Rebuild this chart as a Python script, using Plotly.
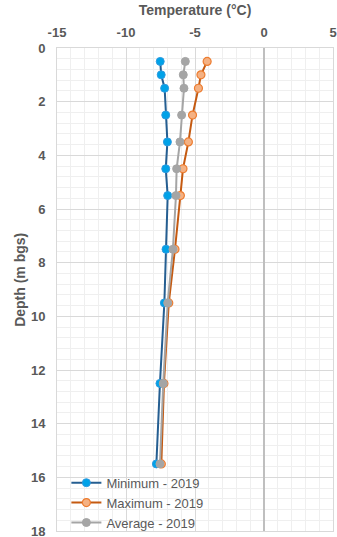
import plotly.graph_objects as go

depth = [0.5, 1.0, 1.5, 2.5, 3.5, 4.5, 5.5, 7.5, 9.5, 12.5, 15.5]
t_min = [-7.52, -7.45, -7.2, -7.12, -7.0, -7.12, -6.98, -7.1, -7.22, -7.54, -7.8]
t_max = [-4.12, -4.57, -4.75, -5.18, -5.48, -5.87, -6.06, -6.45, -6.9, -7.25, -7.44]
t_avg = [-5.7, -5.85, -5.8, -5.97, -6.09, -6.33, -6.38, -6.6, -6.98, -7.3, -7.54]
names = ["Minimum - 2019", "Maximum - 2019", "Average - 2019"]
x_ticks = [-15, -10, -5, 0, 5]
x_labels = ["-15", "-10", "-5", "0", "5"]
y_ticks = [0, 2, 4, 6, 8, 10, 12, 14, 16, 18]
y_labels = [str(v) for v in y_ticks]

fig = go.Figure()
fig.add_trace(go.Scatter(x=t_min, y=depth, name=names[0], mode="lines+markers",
                         line=dict(color="#255e91", width=2),
                         marker=dict(size=8, color="#00a2e8", line=dict(color="#2e9be0", width=1))))
fig.add_trace(go.Scatter(x=t_max, y=depth, name=names[1], mode="lines+markers",
                         line=dict(color="#c55a11", width=2),
                         marker=dict(size=8, color="#f4b183", line=dict(color="#ed7d31", width=1.2))))
fig.add_trace(go.Scatter(x=t_avg, y=depth, name=names[2], mode="lines+markers",
                         line=dict(color="#a5a5a5", width=2),
                         marker=dict(size=8, color="#a5a5a5", line=dict(color="#a5a5a5", width=1))))

fig.update_layout(
    width=337, height=537,
    margin=dict(l=57, r=4, t=48, b=6, autoexpand=False),
    plot_bgcolor="white", paper_bgcolor="white",
    font=dict(family="Liberation Sans, Arial", color="#595959"),
    showlegend=True,
    legend=dict(x=0.034, y=-0.014, xanchor="left", yanchor="bottom",
                bgcolor="rgba(255,255,255,0)", font=dict(size=13, color="#595959"),
                tracegroupgap=0),
    annotations=[dict(text="<b>Depth (m bgs)</b>", textangle=-90, showarrow=False,
                      xref="paper", yref="paper", x=0, y=0.52, xanchor="center", yanchor="middle",
                      xshift=-37, font=dict(size=14, color="#595959"))],
)
fig.update_xaxes(
    side="top", range=[-15, 5], tickvals=x_ticks, ticktext=x_labels,
    tickfont=dict(size=13, color="#595959", family="Liberation Sans, Arial", weight="bold"),
    ticklabelstandoff=5, ticklabeloverflow="allow", automargin=False,
    title=dict(text="<b>Temperature (°C)</b>", font=dict(size=14, color="#595959"), standoff=5),
    showgrid=True, gridcolor="#d9d9d9", gridwidth=1,
    minor=dict(dtick=1, showgrid=True, gridcolor="#efefef"),
    zeroline=True, zerolinecolor="#bfbfbf", zerolinewidth=1.5,
    showline=True, linecolor="#d9d9d9", mirror=True, ticks="",
)
fig.update_yaxes(
    range=[18, 0], tickvals=y_ticks, ticktext=y_labels,
    tickfont=dict(size=13, color="#595959", family="Liberation Sans, Arial", weight="bold"),
    ticklabelstandoff=8, ticklabeloverflow="allow", automargin=False,
    showgrid=True, gridcolor="#d9d9d9", gridwidth=1,
    minor=dict(dtick=0.4, showgrid=True, gridcolor="#efefef"),
    zeroline=False,
    showline=True, linecolor="#d9d9d9", mirror=True, ticks="",
)
fig.write_html("out.html", config={"displayModeBar": False},
               post_script="document.body.style.margin='0';")
